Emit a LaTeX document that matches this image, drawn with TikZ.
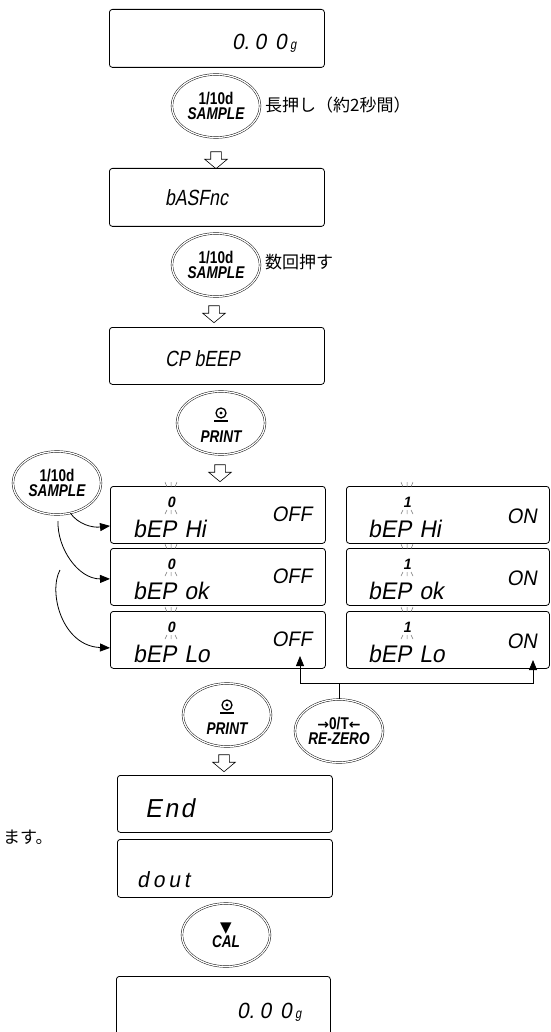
\documentclass[tikz,border=0pt]{standalone}
\usepackage{fontspec}
\usepackage{tikz}
\usetikzlibrary{arrows.meta,positioning,shapes.geometric,shapes.arrows}

\newfontfamily\lcdfont[FakeSlant=0.18,FakeStretch=0.8]{Liberation Sans}
\newfontfamily\lcdwide[FakeSlant=0.18,FakeStretch=0.95]{Liberation Sans}
\newfontfamily\keyfont[FakeStretch=0.8]{Liberation Sans}
\newfontfamily\jpfont{Noto Sans CJK JP}
\newfontfamily\symfont{DejaVu Sans}

\tikzset{
  lcdbox/.style={draw, line width=0.8pt, rounded corners=3pt, anchor=north west,
    inner sep=0pt, minimum width=215pt, minimum height=58pt},
  lcdtxt/.style={inner sep=0pt, anchor=base west,
    font=\lcdfont\fontsize{#1}{#1}\selectfont},
  lcdtxt/.default=22,
  rowtxt/.style={inner sep=0pt, anchor=base west,
    font=\lcdwide\fontsize{#1}{#1}\selectfont},
  rowtxt/.default=24,
  blinkdig/.style={inner sep=0pt, font=\lcdwide\bfseries\fontsize{15}{15}\selectfont},
  blink/.style={line width=0.5pt, black!55},
  btn/.style={ellipse, draw, double, double distance=1.3pt, line width=0.45pt,
    minimum width=88pt, minimum height=63pt, inner sep=0pt, align=center,
    font=\keyfont\bfseries\fontsize{17}{15}\selectfont},
  btntxt/.style={inner sep=0pt, font=\keyfont\bfseries\itshape\fontsize{17}{15}\selectfont},
  flowarr/.style={single arrow, draw, line width=0.6pt, shape border rotate=270,
    minimum height=17pt, inner sep=5pt, single arrow head extend=6pt,
    single arrow tip angle=100},
  tri/.style={-{Triangle[length=10pt,width=8pt]}, line width=0.8pt},
  remark/.style={inner sep=0pt, anchor=west, font=\jpfont\fontsize{17}{17}\selectfont}
}

\begin{document}
\begin{tikzpicture}[x=1pt, y=-1pt]
  \useasboundingbox (0,0) rectangle (550,1032);

  % weighing display
  \node[lcdbox] (disp1) at (109,9) {};
  \node[rowtxt=22, anchor=base east] (disp1v) at (287,50) {0.\kern5pt 0\kern9pt 0};
  \node[lcdtxt=14] (disp1g) at (290,50) {g};

  % SAMPLE held: function menu
  \node[btn] (smp1) at (216,106) {1/10d\\\itshape SAMPLE};
  \node[remark] (note1) at (265,105) {長押し（約2秒間）};
  \node[flowarr] (fa1) at (216,158) {};
  \node[lcdbox] (menu1) at (109,168) {};
  \node[lcdtxt] (menu1t) at (165,206) {bASFnc};

  % SAMPLE a few times: beep menu
  \node[btn] (smp2) at (216,265) {1/10d\\\itshape SAMPLE};
  \node[remark] (note2) at (265,262) {数回押す};
  \node[flowarr] (fa2) at (214,312) {};
  \node[lcdbox, minimum height=57pt] (menu2) at (109,327) {};
  \node[lcdtxt] (menu2t) at (165,366) {CP bEEP};

  % PRINT: into the settings
  \node[btn] (prt1) at (221,423) {};
  \node[btntxt] (prt1t) at ([yshift=-14pt]prt1.center) {PRINT};
  \node[flowarr] (fa3) at (220,471) {};

  % setting rows, 0 = OFF on the left, 1 = ON on the right
  \foreach \row/\yt/\lab in {hi/486/Hi, ok/548/ok, lo/611/Lo} {
    \node[lcdbox, minimum height=57pt] (\row-off) at (110,\yt) {};
    \node[lcdbox, minimum width=203pt, minimum height=57pt] (\row-on) at (346,\yt) {};
    \node[rowtxt] (\row-offt) at (133,\yt+51) {bEP\hspace{8pt}\lab};
    \node[rowtxt] (\row-ont) at (368,\yt+51) {bEP\hspace{8pt}\lab};
    \node[rowtxt=21, anchor=base east] (\row-offv) at (312,\yt+35) {OFF};
    \node[rowtxt=21, anchor=base east] (\row-onv) at (537,\yt+37) {ON};
    \node[blinkdig] (\row-d0) at (171,\yt+16) {0};
    \node[blinkdig] (\row-d1) at (407,\yt+16) {1};
    \foreach \xd in {171,407} {
      \draw[blink] (\xd-6,\yt-4) -- (\xd-4,\yt+1) (\xd,\yt-4) -- (\xd,\yt+1) (\xd+6,\yt-4) -- (\xd+4,\yt+1);
      \draw[blink] (\xd-4,\yt+24) -- (\xd-6,\yt+28) (\xd,\yt+24) -- (\xd,\yt+28) (\xd+4,\yt+24) -- (\xd+6,\yt+28);
    }
  }

  % SAMPLE steps through the rows
  \node[btn] (smp3) at (57,483) {1/10d\\\itshape SAMPLE};
  \coordinate (c2) at (58,521);
  \coordinate (c3) at (60,570);
  \draw[tri] (smp3.-66) .. controls (78,524) and (92,528) .. ([yshift=-11pt]hi-off.west);
  \draw[tri] (c2) .. controls (57,548) and (78,579) .. ([yshift=-2pt]ok-off.west);
  \draw[tri] (c3) .. controls (48,592) and (62,646) .. ([yshift=-8pt]lo-off.west);

  % PRINT stores, RE-ZERO switches OFF/ON
  \node[btn] (prt2) at (227,715) {};
  \node[btntxt] (prt2t) at ([yshift=-14pt]prt2.center) {PRINT};
  \node[btn] (rz) at (339,731) {{\symfont\fontsize{14}{14}\selectfont→}0/T{\symfont\fontsize{14}{14}\selectfont←}\\\itshape RE-ZERO};
  \coordinate (junc) at (rz.north |- 0,683);
  \coordinate (offtip) at (300,656);
  \coordinate (ontip) at (533,660);
  \draw[line width=0.8pt] (rz.north) -- (junc);
  \draw[tri] (junc) -| (offtip);
  \draw[tri] (junc) -| (ontip);

  % printer symbol on both PRINT keys
  \foreach \pb in {prt1,prt2} {
    \draw[line width=1.3pt] ([yshift=10pt]\pb.center) circle (5pt);
    \fill ([yshift=10pt]\pb.center) circle (1.6pt);
    \draw[line width=1.6pt] ([xshift=-7pt,yshift=2pt]\pb.center) -- ([xshift=7pt,yshift=2pt]\pb.center);
  }

  % end of the menu
  \node[flowarr] (fa4) at (224,761) {};
  \node[lcdbox, minimum height=57pt] (end1) at (117,775) {};
  \node[rowtxt=26] (end1t) at (145,817) {\addfontfeature{LetterSpace=10}End};
  \node[remark] (note3) at (3,837) {ます。};
  \node[lcdbox] (dout1) at (117,839) {};
  \node[rowtxt=22] (dout1t) at (137,887) {\addfontfeature{LetterSpace=18}dout};

  % CAL: back to weighing
  \node[btn] (cal1) at (226,935) {{\symfont\fontsize{15}{15}\selectfont ▼}\\\itshape CAL};
  \node[lcdbox, minimum width=214pt, minimum height=80pt] (disp2) at (116,976) {};
  \node[rowtxt=22, anchor=base east] (disp2v) at (292,1018) {0.\kern5pt 0\kern9pt 0};
  \node[lcdtxt=14] (disp2g) at (295,1018) {g};
\end{tikzpicture}
\end{document}
